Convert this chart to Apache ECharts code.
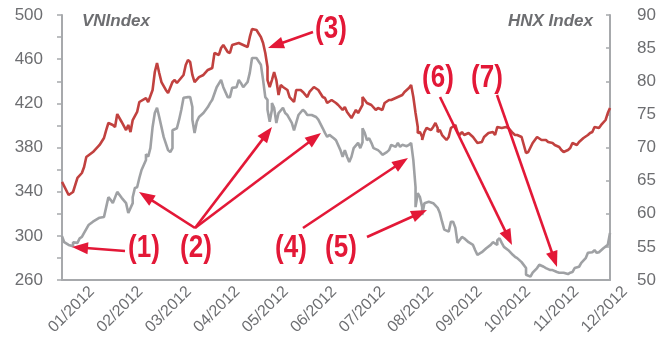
<!DOCTYPE html>
<html><head><meta charset="utf-8">
<script src="https://cdn.jsdelivr.net/npm/echarts@6/dist/echarts.min.js"></script>
<style>html,body{margin:0;padding:0;background:#fff}#c{width:662px;height:338px}</style>
</head><body><div id="c"></div>
<script>
// ---- data ----
const monthLabels = ['01/2012','02/2012','03/2012','04/2012','05/2012','06/2012','07/2012','08/2012','09/2012','10/2012','11/2012','12/2012'];

// VNIndex (left axis) : trading-day index and closing value
const vnDays = [0,3,5,7,9,10,11,14,17,19,20,21,23,24,25,27,29,30,31,32,34,35,38,39,41,42,43,44,45,47,48,50,51,52,55,56,57,58,59,60,62,64,66,68,69,71,72,73,75,76,77,80,82,84,85,86,88,90,91,92,93,93,94,95,96,97,98,99,100,102,103,105,106,108,109,111,112,114,116,118,119,120,122,124,125,127,128,129,131,133,134,136,136,137,138,140,142,143,145,146,148,149,151,152,154,155,157,158,159,160,161,161,162,163,163,164,165,167,168,169,170,170,171,172,174,175,176,178,179,179,180,181,182,184,186,187,188,190,191,193,195,196,197,199,201,202,204,205,206,208,210,211,213,214,215,217,219,220,222,223,225,226,227,229,230,231,233,234,236,238,239,240,241,243,244,246,247,248];
const vnValues = [348.8,337.0,339.7,352.4,356.9,362.3,371.4,375.9,382.3,388.6,395.8,402.2,400.4,398.6,410.3,403.1,395.8,400.4,394.0,404.9,412.2,421.2,424.8,421.2,432.1,448.4,456.5,447.5,439.3,432.1,429.4,439.3,441.1,438.4,445.7,454.7,459.2,457.4,445.7,439.3,443.8,445.7,450.2,452.0,465.6,463.8,470.1,472.8,466.5,465.6,472.8,474.6,472.8,471.0,480.1,487.3,486.4,480.1,474.6,465.6,452.9,441.1,434.8,441.1,448.4,441.1,427.5,436.6,434.8,432.1,425.7,421.2,432.1,432.1,430.3,425.7,430.3,434.8,432.1,425.7,424.8,420.3,423.0,420.3,418.5,414.0,416.7,412.2,406.7,414.0,411.2,418.5,425.7,423.0,420.3,418.5,414.0,415.8,414.0,420.3,423.0,423.0,424.8,425.7,427.5,430.3,433.9,436.6,425.7,411.2,398.6,393.1,394.0,389.5,386.8,394.0,397.7,395.8,398.6,402.2,397.7,394.0,395.8,391.3,386.8,389.5,397.7,400.4,394.0,393.1,391.3,394.0,391.3,393.1,389.5,386.8,384.1,385.0,389.5,393.1,394.0,391.3,398.6,397.7,398.6,397.7,393.1,391.3,391.3,389.5,375.0,375.9,384.1,386.8,389.5,386.8,386.8,385.0,384.1,382.3,380.5,377.7,375.9,377.7,379.5,384.1,382.3,385.0,388.6,391.3,393.1,394.0,398.6,397.7,400.4,404.9,411.2,415.8];

// HNX Index (right axis)
const hnxDays = [0,1,3,5,5,7,8,9,10,12,14,17,19,20,21,22,23,25,25,27,29,30,32,32,33,34,35,36,38,38,39,40,41,42,43,44,46,48,49,50,50,52,53,54,55,57,58,59,59,60,61,62,64,66,67,68,70,72,73,75,76,77,79,80,81,82,84,85,86,88,90,91,92,93,93,94,95,95,96,97,98,100,101,102,104,105,107,109,110,111,113,115,116,118,119,120,121,123,124,126,127,128,129,130,131,132,134,135,136,136,137,138,139,140,141,143,144,145,147,148,149,151,152,153,154,156,157,158,159,160,160,161,162,163,163,164,166,168,170,171,172,173,175,176,177,178,179,181,182,184,186,187,188,190,192,194,195,197,197,198,199,200,202,204,205,206,208,210,210,212,213,213,215,216,218,219,221,222,224,225,227,229,230,231,232,234,235,237,238,240,241,242,243,245,247,248];
const hnxValues = [56.6,55.7,55.3,55.1,55.7,55.6,56.3,56.5,57.1,58.3,58.8,59.4,59.5,61.0,62.5,62.1,61.6,63.3,63.6,62.4,61.6,60.1,61.6,62.5,63.9,64.0,65.4,66.6,68.1,69.0,68.6,69.9,73.1,75.2,76.0,74.6,71.6,69.6,69.3,69.9,72.6,72.9,74.2,75.7,77.5,77.6,77.6,76.1,74.2,72.2,73.9,74.6,75.2,76.1,76.7,77.2,79.1,80.2,79.1,77.6,77.6,79.0,79.1,80.2,79.7,79.1,79.9,81.3,83.5,83.5,82.5,80.2,77.6,77.2,75.7,73.9,75.7,76.7,76.0,73.7,75.2,76.0,75.2,74.9,73.7,72.6,74.9,75.7,75.4,74.9,74.9,74.6,74.2,72.9,72.2,71.6,71.9,71.4,71.1,69.6,68.6,69.6,68.6,67.8,68.6,69.9,70.7,69.9,70.8,72.9,72.2,71.1,71.4,70.7,69.9,69.6,69.3,68.9,69.3,69.6,70.4,70.1,70.7,70.1,70.4,70.2,70.4,70.7,68.1,64.0,61.0,63.1,62.5,61.0,59.8,61.6,61.8,61.6,60.9,60.1,58.8,57.6,57.3,58.8,58.8,57.9,55.6,56.5,56.3,55.7,55.3,54.5,53.8,54.2,54.8,55.3,55.7,55.3,56.0,56.3,55.6,55.0,54.5,53.8,53.5,53.3,52.7,51.8,50.8,50.5,51.1,51.2,51.8,52.3,52.0,51.8,51.5,51.5,51.2,51.1,51.1,50.9,51.1,51.2,51.8,52.0,52.6,53.3,54.1,54.2,54.5,54.1,54.2,54.8,55.3,57.1];

const leftTicks = {min:260, max:500, step:20, labelStep:40};
const rightTicks = {min:50, max:90, step:5};

// annotation labels and arrows (pixel layout)
const noteTexts = ['(1)','(2)','(3)','(4)','(5)','(6)','(7)'];
const notePos = [[144,248],[196,248],[331,29],[291,248],[341,248],[438,78],[487,78]];
const arrows = [
  [125,251,72,247],
  [195,228,139,192],[195,228,272,127],[195,228,321,133],
  [313,32,268,48],
  [303,228,408,158],
  [367,237,427,210],
  [440,97,512,245],
  [497,95,557,267]
];

// ---- chart ----
const RED='#c1413f', GRAY='#9fa1a4', AX='#a7a9ac', TXT='#6d6e71', ANN='#e31837';
const FONT='"Liberation Sans", Arial, sans-serif';
const ANNFONT='"Liberation Sans", Arial, sans-serif';

const graphics = [];
graphics.push({type:'text', left:82, top:13, style:{text:'VNIndex', font:'italic bold 17px '+FONT, fill:TXT}});
graphics.push({type:'text', right:69, top:13, style:{text:'HNX Index', font:'italic bold 17px '+FONT, fill:TXT}});
arrows.forEach(a=>{
  const [x1,y1,x2,y2]=a; const dx=x2-x1, dy=y2-y1; const L=Math.hypot(dx,dy);
  const ux=dx/L, uy=dy/L, hl=16, hw=6;
  const bx=x2-ux*hl, by=y2-uy*hl;
  graphics.push({type:'line', shape:{x1:x1,y1:y1,x2:bx+ux*2,y2:by+uy*2}, style:{stroke:ANN, lineWidth:2.6}, z:50});
  graphics.push({type:'polygon', shape:{points:[[x2,y2],[bx-uy*hw,by+ux*hw],[bx+uy*hw,by-ux*hw]]}, style:{fill:ANN}, z:50});
});
noteTexts.forEach((t,i)=>{
  graphics.push({type:'text', x:notePos[i][0], y:notePos[i][1], scaleX:0.84, z:51,
    style:{text:t, font:'bold 31px '+ANNFONT, fill:ANN, textAlign:'center', textVerticalAlign:'middle'}});
});

const chart = echarts.init(document.getElementById('c'), null, {renderer:'canvas'});
chart.setOption({
  animation:false,
  backgroundColor:'#fff',
  grid:[{left:62, right:52, top:15, bottom:58}, {left:92, right:37, top:15, bottom:58}],
  xAxis:[
    {type:'value', gridIndex:0, min:0, max:248, axisLine:{show:true, lineStyle:{color:AX, width:2}},
     axisTick:{show:false}, axisLabel:{show:false}, splitLine:{show:false}},
    {type:'category', gridIndex:1, data:monthLabels, boundaryGap:false, axisLine:{show:false}, axisTick:{show:false},
     axisLabel:{rotate:45, margin:9, color:TXT, fontSize:16, fontFamily:FONT, interval:0}, splitLine:{show:false}}
  ],
  yAxis:[
    {type:'value', gridIndex:0, position:'left', min:leftTicks.min, max:leftTicks.max, interval:leftTicks.step,
     axisLine:{show:true, lineStyle:{color:AX, width:2}}, axisTick:{show:true, inside:false, length:5, lineStyle:{color:AX, width:1.5}},
     axisLabel:{color:TXT, fontSize:17, fontFamily:FONT, margin:19,
       formatter:v=> ((v-leftTicks.min)%leftTicks.labelStep===0 ? String(v) : '')},
     splitLine:{show:false}},
    {type:'value', gridIndex:0, position:'right', min:rightTicks.min, max:rightTicks.max, interval:rightTicks.step,
     axisLine:{show:true, lineStyle:{color:AX, width:2}}, axisTick:{show:true, inside:true, length:4, lineStyle:{color:AX, width:1.5}},
     axisLabel:{color:TXT, fontSize:17, fontFamily:FONT, margin:27}, splitLine:{show:false}},
    {type:'value', gridIndex:1, min:0, max:1, show:false}
  ],
  series:[
    {name:'HNX Index', type:'line', xAxisIndex:0, yAxisIndex:1, showSymbol:false, symbol:'none',
     lineStyle:{color:GRAY, width:2.6}, data:hnxDays.map((d,i)=>[d,hnxValues[i]]), z:2},
    {name:'VNIndex', type:'line', xAxisIndex:0, yAxisIndex:0, showSymbol:false, symbol:'none',
     lineStyle:{color:RED, width:2.6}, data:vnDays.map((d,i)=>[d,vnValues[i]]), z:3},
    {type:'line', xAxisIndex:1, yAxisIndex:2, data:[], silent:true}
  ],
  graphic:graphics
});
</script></body></html>
